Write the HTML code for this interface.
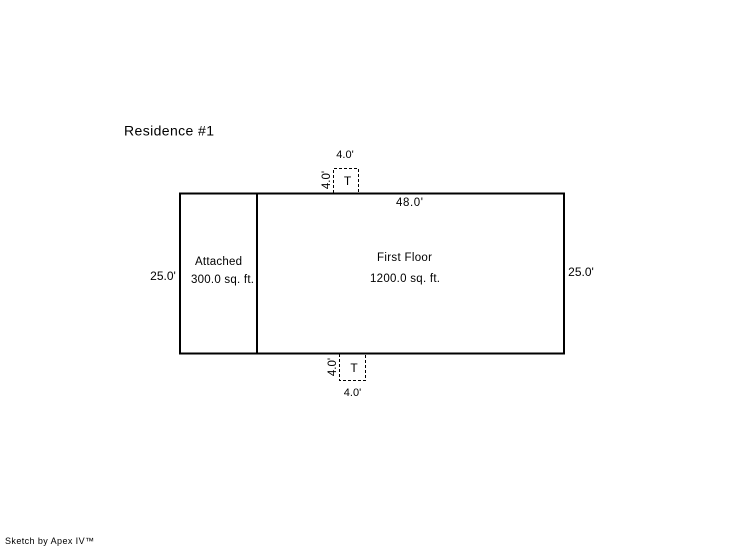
<!DOCTYPE html>
<html>
<head>
<meta charset="utf-8">
<style>
html,body{margin:0;padding:0;background:#fff;width:746px;height:547px;overflow:hidden}
svg{display:block}
text{font-family:"Liberation Sans",sans-serif;fill:#000}
</style>
</head>
<body>
<svg width="746" height="547" viewBox="0 0 746 547" xmlns="http://www.w3.org/2000/svg">
<g fill="none" stroke="#000" stroke-width="2" shape-rendering="crispEdges">
<rect x="180" y="193.500" width="384" height="160"/>
<line x1="257" y1="193" x2="257" y2="354"/>
</g>
<g fill="none" stroke="#000" stroke-width="1" stroke-dasharray="3,2" shape-rendering="crispEdges">
<path d="M333.500 193V168.500H358.500V193"/>
<path d="M339.500 354V380.500H365.500V354"/>
</g>
<text x="124" y="135.500" font-size="14" textLength="90" lengthAdjust="spacing">Residence #1</text>
<text x="345" y="158" font-size="11" text-anchor="middle">4.0'</text>
<text x="347.500" y="185" font-size="12" text-anchor="middle">T</text>
<text transform="translate(330,180) rotate(-90)" font-size="11.500" text-anchor="middle">4.0'</text>
<text x="396" y="206" font-size="11.500" textLength="27" lengthAdjust="spacing">48.0'</text>
<text x="163" y="280" font-size="12" text-anchor="middle">25.0'</text>
<text x="581" y="276" font-size="12" text-anchor="middle">25.0'</text>
<text x="195" y="265" font-size="11.500" textLength="47" lengthAdjust="spacing">Attached</text>
<text x="191" y="283" font-size="11.500" textLength="63" lengthAdjust="spacing">300.0 sq. ft.</text>
<text x="377" y="261" font-size="11.500" textLength="55" lengthAdjust="spacing">First Floor</text>
<text x="370" y="282" font-size="11.500" textLength="70" lengthAdjust="spacing">1200.0 sq. ft.</text>
<text transform="translate(336,367) rotate(-90)" font-size="11.500" text-anchor="middle">4.0'</text>
<text x="354" y="372" font-size="12" text-anchor="middle">T</text>
<text x="352.500" y="396" font-size="11" text-anchor="middle">4.0'</text>
<text x="5" y="544" font-size="9" textLength="89" lengthAdjust="spacing">Sketch by Apex IV™</text>
</svg>
</body>
</html>
